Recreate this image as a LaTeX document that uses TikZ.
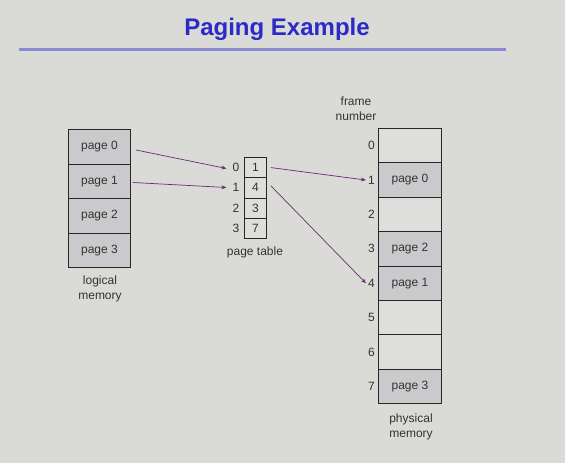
\documentclass[tikz,border=0pt]{standalone}
\usepackage{fontspec}
\setmainfont{Liberation Sans}
\usetikzlibrary{arrows.meta}
\definecolor{bgc}{HTML}{DADAD6}
\definecolor{titleblue}{HTML}{2A2AC8}
\definecolor{rulec}{HTML}{8A8AD8}
\definecolor{pagefill}{HTML}{CACACC}
\definecolor{emptyfill}{HTML}{DEDEDC}
\definecolor{arrowc}{HTML}{6A2A78}
\definecolor{textc}{HTML}{333333}
\begin{document}
\begin{tikzpicture}[x=1pt,y=-1pt,
  txt/.style={font=\fontsize{12}{14}\selectfont, text=textc, inner sep=0pt},
  lbl/.style={font=\fontsize{12}{15}\selectfont, text=textc, align=center, inner sep=0pt},
  cell/.style={draw=black!85, line width=0.9pt, minimum width=62pt, minimum height=34.5pt, inner sep=0pt, anchor=north west, font=\fontsize{12}{14}\selectfont, text=textc},
  pcell/.style={cell, fill=pagefill},
  ecell/.style={cell, fill=emptyfill},
  tcell/.style={draw=black!85, line width=0.9pt, minimum width=22pt, minimum height=20.25pt, inner sep=0pt, anchor=north west, fill=emptyfill, font=\fontsize{12}{14}\selectfont, text=textc},
  fcell/.style={draw=black!85, line width=0.9pt, minimum width=63pt, minimum height=34.4pt, inner sep=0pt, anchor=north west, font=\fontsize{12}{14}\selectfont, text=textc},
  arr/.style={draw=arrowc, line width=0.7pt, -{Stealth[length=5pt,width=4pt]}}
]
\fill[bgc] (0,0) rectangle (565,463);
\useasboundingbox (0,0) rectangle (565,463);
% title
\node[font=\fontsize{24}{28}\bfseries, text=titleblue, anchor=base, inner sep=0pt] (title) at (277,35) {Paging Example};
\draw[rulec, line width=2.2pt] (19,49.5) -- (506,49.5);

% logical memory
\node[pcell] (l0) at (68,129) {page 0};
\node[pcell] (l1) at (68,163.5) {page 1};
\node[pcell] (l2) at (68,198) {page 2};
\node[pcell] (l3) at (68,232.5) {page 3};
\node[lbl] (llab) at (100,289) {logical\\memory};

% page table
\node[tcell] (t0) at (244,157) {1};
\node[tcell] (t1) at (244,177.25) {4};
\node[tcell] (t2) at (244,197.5) {3};
\node[tcell] (t3) at (244,217.75) {7};
\node[txt] (i0) at (236,167.5) {0};
\node[txt] (i1) at (236,187.5) {1};
\node[txt] (i2) at (236,208) {2};
\node[txt] (i3) at (236,228) {3};
\node[txt] (tlab) at (255,252) {page table};

% physical memory
\node[fcell, fill=emptyfill] (f0) at (378,128) {};
\node[fcell, fill=pagefill] (f1) at (378,162.4) {page 0};
\node[fcell, fill=emptyfill] (f2) at (378,196.8) {};
\node[fcell, fill=pagefill] (f3) at (378,231.2) {page 2};
\node[fcell, fill=pagefill] (f4) at (378,265.6) {page 1};
\node[fcell, fill=emptyfill] (f5) at (378,300) {};
\node[fcell, fill=emptyfill] (f6) at (378,334.4) {};
\node[fcell, fill=pagefill] (f7) at (378,368.8) {page 3};
\foreach \i in {0,...,7}{
  \node[txt, anchor=east] (n\i) at ([xshift=-3pt]f\i.west) {\i};
}
\node[lbl] (flab) at (356,108.5) {frame\\number};
\node[lbl] (plab) at (411,426.5) {physical\\memory};

% arrows
\coordinate (a0s) at (136,150);
\coordinate (a1s) at (133,182.5);
\draw[arr] (a0s) -- ([xshift=-6pt,yshift=-1pt]i0.west);
\draw[arr] (a1s) -- ([xshift=-6pt]i1.west);
\draw[arr] ([xshift=4pt]t0.east) -- ([xshift=-2pt]n1.west);
\draw[arr] ([xshift=4pt,yshift=2pt]t1.east) -- ([xshift=-2pt]n4.west);
\end{tikzpicture}
\end{document}
